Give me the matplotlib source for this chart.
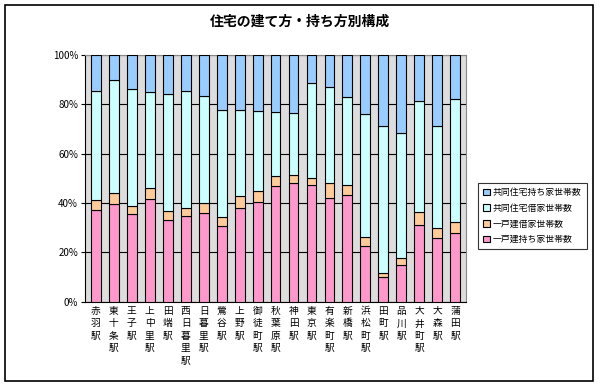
import matplotlib
matplotlib.use("Agg")
import matplotlib.pyplot as plt
import numpy as np

plt.rcParams['font.family'] = ['Noto Sans CJK JP', 'DejaVu Sans']

stations = ["赤羽駅", "東十条駅", "王子駅", "上中里駅", "田端駅", "西日暮里駅", "日暮里駅",
            "鶯谷駅", "上野駅", "御徒町駅", "秋葉原駅", "神田駅", "東京駅", "有楽町駅",
            "新橋駅", "浜松町駅", "田町駅", "品川駅", "大井町駅", "大森駅", "蒲田駅"]

# cumulative tops (%)
top_pink = [37.0, 39.7, 35.4, 41.7, 33.2, 34.7, 35.8, 30.8, 38.1, 40.5, 46.7,
            48.2, 47.4, 42.1, 43.1, 22.5, 10.0, 14.9, 31.3, 26.0, 28.0]
top_orange = [41.3, 43.9, 38.6, 46.1, 36.7, 37.9, 40.0, 34.4, 43.0, 45.0, 50.8,
              51.5, 50.0, 48.2, 47.2, 26.4, 11.7, 17.8, 36.5, 29.7, 32.4]
top_cyan = [85.2, 89.7, 86.2, 84.8, 84.0, 85.2, 83.5, 77.5, 77.8, 77.1, 76.7,
            76.3, 88.6, 87.0, 82.8, 75.9, 71.0, 68.3, 81.3, 71.0, 82.1]

ikko_mochi = np.array(top_pink)
ikko_kari = np.array(top_orange) - np.array(top_pink)
kyodo_kari = np.array(top_cyan) - np.array(top_orange)
kyodo_mochi = 100 - np.array(top_cyan)

labels = ["一戸建持ち家世帯数", "一戸建借家世帯数", "共同住宅借家世帯数", "共同住宅持ち家世帯数"]
colors = ["#ff99cc", "#ffcc99", "#ccffff", "#99ccff"]

fig = plt.figure(figsize=(5.99, 3.86), dpi=100)
fig.patches.append(plt.Rectangle((0.008, 0.013), 0.982, 0.975, transform=fig.transFigure,
                                 fill=False, edgecolor='black', linewidth=1.2))
ax = fig.add_axes([0.142, 0.218, 0.636, 0.64])
ax.set_facecolor('#dddddd')

x = np.arange(len(stations))
bottom = np.zeros(len(stations))
for vals, lab, col in zip([ikko_mochi, ikko_kari, kyodo_kari, kyodo_mochi], labels, colors):
    ax.bar(x, vals, 0.55, bottom=bottom, color=col, edgecolor='black', linewidth=0.8,
           label=lab, zorder=3)
    bottom = bottom + vals

ax.set_ylim(0, 100)
ax.set_xlim(-0.6, len(stations) - 0.4)
ax.set_yticks(range(0, 101, 20))
ax.set_yticklabels([f"{v}%" for v in range(0, 101, 20)], fontsize=7)
ax.yaxis.grid(True, color='black', linewidth=0.8, zorder=1)
ax.set_axisbelow(True)
ax.set_xticks(x)
ax.set_xticklabels(["\n".join(s) for s in stations], fontsize=7, linespacing=1.3,
                   va='top')
ax.tick_params(axis='x', length=0, pad=3)
ax.tick_params(axis='y', length=3, pad=2)
for sp in ['top', 'right']:
    ax.spines[sp].set_color('#888888')

fig.text(0.5, 0.943, "住宅の建て方・持ち方別構成", ha='center', va='center',
         fontsize=10, fontweight='bold')

handles, labs = ax.get_legend_handles_labels()
leg = fig.legend(handles[::-1], labs[::-1], loc='center left',
                 bbox_to_anchor=(0.798, 0.44), fontsize=6.4, frameon=True,
                 fancybox=False, edgecolor='black', handlelength=0.8,
                 handleheight=0.8, handletextpad=0.25, borderpad=0.6, labelspacing=0.75,
                 borderaxespad=0)
leg.get_frame().set_linewidth(0.8)

fig.savefig("out.png", dpi=100)
